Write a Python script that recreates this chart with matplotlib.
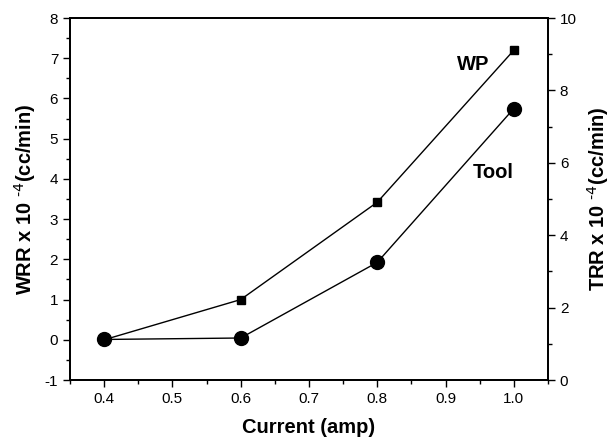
import matplotlib
matplotlib.use("Agg")
import matplotlib.pyplot as plt
from matplotlib.ticker import MultipleLocator

plt.rcParams['font.family'] = ['Liberation Sans', 'DejaVu Sans']
plt.rcParams['mathtext.default'] = 'regular'
plt.rcParams['axes.unicode_minus'] = False

# data
current = [0.4, 0.6, 0.8, 1.0]
wrr = [0.0, 1.0, 3.42, 7.2]        # WP, left axis
trr = [1.12, 1.16, 3.25, 7.5]      # Tool, right axis

fig = plt.figure(figsize=(6.1, 4.37), dpi=100)
ax = fig.add_axes([70 / 610, 57 / 437, 478 / 610, 362 / 437])
ax2 = ax.twinx()

ax.plot(current, wrr, color='black', lw=1, marker='s', ms=5.5)
ax2.plot(current, trr, color='black', lw=1, marker='o', ms=10)

ax.set_xlim(0.35, 1.05)
ax.set_ylim(-1, 8)
ax2.set_ylim(0, 10)

ax.xaxis.set_major_locator(MultipleLocator(0.1))
ax.xaxis.set_minor_locator(MultipleLocator(0.05))
ax.yaxis.set_major_locator(MultipleLocator(1))
ax.yaxis.set_minor_locator(MultipleLocator(0.5))
ax2.yaxis.set_major_locator(MultipleLocator(2))
ax2.yaxis.set_minor_locator(MultipleLocator(1))

for a in (ax, ax2):
    a.tick_params(which='major', direction='out', length=5, width=1, labelsize=11)
    a.tick_params(which='minor', direction='out', length=3, width=1)
    for s in a.spines.values():
        s.set_linewidth(1.3)

ax.set_xticklabels([f"{t:.1f}" for t in ax.get_xticks()])

ax.set_xlabel('Current (amp)', fontsize=14.5, fontweight='bold', labelpad=9)
ax.set_ylabel(r'WRR x 10 $^{\text{-4}}$(cc/min)', fontsize=14.5, fontweight='bold', labelpad=5)
ax2.set_ylabel(r'TRR x 10 $^{\text{-4}}$(cc/min)', fontsize=14.5, fontweight='bold', labelpad=6)

ax.text(0.94, 6.84, 'WP', fontsize=14.5, fontweight='bold', ha='center', va='center')
ax.text(0.97, 4.17, 'Tool', fontsize=14.5, fontweight='bold', ha='center', va='center')

fig.savefig('out.png', dpi=100)
